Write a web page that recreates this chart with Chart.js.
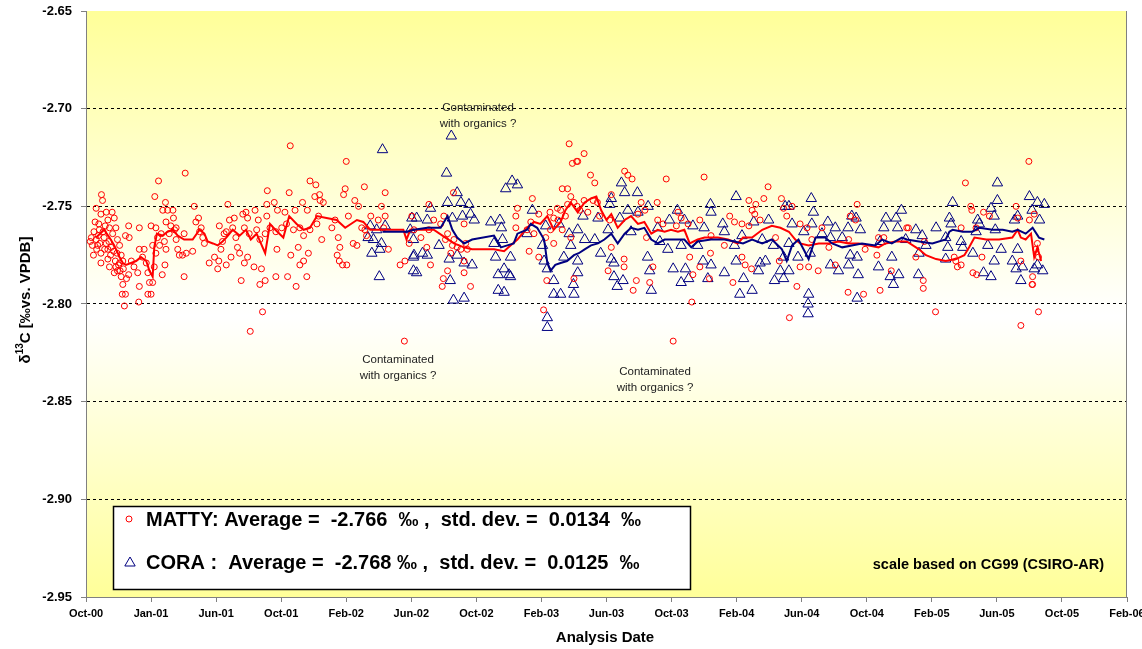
<!DOCTYPE html>
<html>
<head>
<meta charset="utf-8">
<title>d13C MATTY / CORA</title>
<script src="https://cdn.jsdelivr.net/npm/chart.js@4.4.0/dist/chart.umd.min.js"></script>
<style>
  html, body { margin: 0; padding: 0; background: #fff; }
  #wrap { width: 1142px; height: 649px; }
</style>
</head>
<body>
<div id="wrap"><canvas id="chart" width="1142" height="649"></canvas></div>
<script>
// x values are days after 1 Oct 2000, y values are d13C in permil vs. VPDB

const xTickLabels = ['Oct-00', 'Jan-01', 'Jun-01', 'Oct-01', 'Feb-02', 'Jun-02', 'Oct-02', 'Feb-03',
    'Jun-03', 'Oct-03', 'Feb-04', 'Jun-04', 'Oct-04', 'Feb-05', 'Jun-05', 'Oct-05', 'Feb-06'];
const xTickStepDays = 122;
const yMin = -2.95;
const yMax = -2.65;
const yStep = 0.05;

const seriesLabels = [
    'MATTY: Average =  -2.766  \u2030 ,  std. dev. =  0.0134  \u2030',
    'CORA :  Average =  -2.768 \u2030 ,  std. dev. =  0.0125  \u2030'
];

const annotations = ['Contaminated', 'with organics ?'];
const scaleNote = 'scale based on CG99 (CSIRO-AR)';

// MATTY flask results (red circles)
const mattyPoints = [
    [8,-2.768],[10,-2.766],[12,-2.770],[14,-2.775],[15,-2.763],[17,-2.758],[19,-2.751],[19,-2.767],[20,-2.772],
    [22,-2.770],[23,-2.765],[24,-2.759],[25,-2.762],[26,-2.769],[28,-2.754],[28,-2.774],[28,-2.779],[29,-2.744],
    [31,-2.747],[32,-2.763],[34,-2.766],[35,-2.772],[36,-2.760],[38,-2.753],[38,-2.769],[41,-2.757],[41,-2.772],
    [41,-2.777],[43,-2.768],[44,-2.761],[44,-2.781],[46,-2.775],[47,-2.771],[49,-2.753],[50,-2.764],[52,-2.773],
    [53,-2.756],[53,-2.784],[55,-2.778],[56,-2.761],[56,-2.781],[58,-2.774],[59,-2.767],[59,-2.783],[61,-2.780],
    [63,-2.770],[63,-2.779],[64,-2.783],[66,-2.775],[66,-2.786],[68,-2.795],[69,-2.778],[69,-2.790],[70,-2.782],
    [72,-2.801],[74,-2.765],[74,-2.795],[76,-2.787],[80,-2.760],[80,-2.785],[81,-2.766],[85,-2.778],[90,-2.781],
    [97,-2.784],[99,-2.799],[100,-2.761],[100,-2.772],[100,-2.791],[106,-2.776],[109,-2.772],[113,-2.779],
    [116,-2.784],[116,-2.795],[119,-2.789],[122,-2.760],[122,-2.795],[125,-2.770],[125,-2.789],[128,-2.781],
    [129,-2.745],[131,-2.761],[131,-2.774],[134,-2.766],[136,-2.737],[138,-2.770],[141,-2.764],[143,-2.785],
    [144,-2.752],[147,-2.768],[148,-2.780],[149,-2.748],[150,-2.758],[150,-2.772],[153,-2.752],[156,-2.764],
    [159,-2.760],[163,-2.752],[164,-2.756],[166,-2.762],[169,-2.761],[169,-2.767],[172,-2.772],[175,-2.775],
    [181,-2.775],[184,-2.764],[184,-2.786],[186,-2.733],[188,-2.774],[200,-2.773],[203,-2.750],[206,-2.758],
    [211,-2.756],[213,-2.763],[216,-2.761],[219,-2.766],[222,-2.769],[231,-2.779],[241,-2.776],[247,-2.782],
    [249,-2.778],[250,-2.760],[253,-2.772],[256,-2.768],[259,-2.764],[263,-2.763],[263,-2.780],[266,-2.749],
    [269,-2.757],[272,-2.776],[275,-2.761],[278,-2.756],[281,-2.766],[284,-2.771],[288,-2.774],[291,-2.788],
    [294,-2.754],[297,-2.761],[297,-2.779],[300,-2.753],[303,-2.756],[303,-2.776],[306,-2.764],[308,-2.814],
    [315,-2.781],[317,-2.752],[320,-2.762],[323,-2.757],[326,-2.767],[326,-2.790],[329,-2.782],[331,-2.804],
    [336,-2.764],[336,-2.788],[339,-2.749],[339,-2.755],[340,-2.742],[345,-2.761],[353,-2.748],[356,-2.763],
    [356,-2.786],[358,-2.772],[359,-2.752],[367,-2.761],[373,-2.753],[376,-2.759],[378,-2.786],[381,-2.743],
    [383,-2.719],[384,-2.775],[389,-2.762],[392,-2.752],[394,-2.791],[398,-2.771],[401,-2.761],[401,-2.780],
    [406,-2.748],[408,-2.765],[408,-2.778],[414,-2.786],[415,-2.752],[417,-2.774],[420,-2.737],[420,-2.762],
    [429,-2.745],[431,-2.739],[433,-2.759],[436,-2.755],[438,-2.744],[439,-2.747],[442,-2.767],[445,-2.748],
    [461,-2.761],[467,-2.757],[471,-2.775],[473,-2.766],[475,-2.778],[476,-2.771],[481,-2.780],[483,-2.744],
    [486,-2.741],[488,-2.727],[489,-2.780],[492,-2.755],[501,-2.769],[504,-2.747],[508,-2.770],[511,-2.750],
    [517,-2.761],[522,-2.740],[523,-2.762],[526,-2.765],[534,-2.755],[548,-2.757],[554,-2.750],[558,-2.761],
    [561,-2.743],[561,-2.755],[567,-2.772],[589,-2.780],[597,-2.819],[598,-2.778],[606,-2.769],[611,-2.755],
    [615,-2.762],[628,-2.766],[639,-2.771],[643,-2.749],[643,-2.762],[646,-2.780],[652,-2.757],[665,-2.759],
    [668,-2.791],[670,-2.787],[671,-2.755],[674,-2.767],[678,-2.764],[678,-2.783],[684,-2.774],[687,-2.770],
    [689,-2.743],[690,-2.767],[696,-2.771],[703,-2.772],[709,-2.759],[709,-2.778],[709,-2.784],[712,-2.769],
    [715,-2.772],[721,-2.791],[806,-2.755],[806,-2.761],[809,-2.751],[827,-2.762],[831,-2.773],[834,-2.758],
    [837,-2.746],[840,-2.764],[849,-2.754],[849,-2.776],[858,-2.803],[862,-2.766],[864,-2.788],[870,-2.753],
    [871,-2.762],[877,-2.756],[877,-2.769],[884,-2.751],[885,-2.757],[890,-2.752],[893,-2.741],[893,-2.762],
    [899,-2.755],[903,-2.741],[903,-2.749],[906,-2.718],[909,-2.745],[909,-2.766],[912,-2.728],[915,-2.748],
    [915,-2.787],[920,-2.727],[921,-2.750],[922,-2.727],[926,-2.752],[934,-2.723],[934,-2.747],[941,-2.753],
    [946,-2.734],[951,-2.747],[954,-2.738],[959,-2.748],[963,-2.755],[979,-2.783],[982,-2.757],[985,-2.744],
    [985,-2.771],[1009,-2.777],[1009,-2.781],[1010,-2.732],[1016,-2.734],[1024,-2.736],[1026,-2.793],
    [1032,-2.788],[1035,-2.754],[1041,-2.748],[1048,-2.752],[1051,-2.766],[1057,-2.789],[1063,-2.781],
    [1071,-2.748],[1072,-2.757],[1082,-2.759],[1088,-2.736],[1101,-2.819],[1107,-2.760],[1110,-2.753],
    [1116,-2.756],[1129,-2.759],[1132,-2.776],[1136,-2.799],[1138,-2.785],[1151,-2.757],[1151,-2.781],
    [1159,-2.735],[1169,-2.787],[1171,-2.774],[1172,-2.765],[1197,-2.770],[1207,-2.755],[1213,-2.789],
    [1216,-2.758],[1230,-2.759],[1230,-2.776],[1236,-2.780],[1243,-2.747],[1243,-2.760],[1248,-2.782],
    [1249,-2.752],[1254,-2.754],[1256,-2.749],[1264,-2.757],[1271,-2.746],[1279,-2.740],[1293,-2.766],
    [1300,-2.778],[1304,-2.746],[1308,-2.751],[1314,-2.755],[1319,-2.807],[1324,-2.750],[1333,-2.791],
    [1339,-2.759],[1339,-2.781],[1352,-2.761],[1355,-2.781],[1361,-2.767],[1373,-2.783],[1380,-2.761],
    [1393,-2.771],[1405,-2.780],[1429,-2.794],[1430,-2.767],[1433,-2.755],[1443,-2.757],[1446,-2.749],
    [1458,-2.795],[1461,-2.772],[1483,-2.775],[1486,-2.766],[1489,-2.793],[1496,-2.766],[1510,-2.783],
    [1539,-2.761],[1542,-2.761],[1556,-2.776],[1570,-2.788],[1570,-2.792],[1572,-2.768],[1593,-2.804],
    [1628,-2.776],[1631,-2.778],[1634,-2.781],[1641,-2.761],[1641,-2.780],[1649,-2.738],[1659,-2.750],
    [1661,-2.752],[1663,-2.784],[1669,-2.761],[1670,-2.785],[1680,-2.776],[1683,-2.753],[1694,-2.755],
    [1744,-2.750],[1747,-2.756],[1753,-2.778],[1753,-2.811],[1768,-2.727],[1769,-2.757],[1774,-2.790],
    [1775,-2.786],[1775,-2.790],[1778,-2.754],[1781,-2.772],[1784,-2.769],[1786,-2.776],[1786,-2.804]
];

// CORA flask results (blue triangles)
const coraPoints = [
    [529,-2.766],[533,-2.760],[536,-2.774],[539,-2.767],[545,-2.762],[550,-2.786],[551,-2.772],[554,-2.769],
    [556,-2.721],[561,-2.760],[608,-2.762],[611,-2.756],[614,-2.767],[614,-2.776],[614,-2.783],[615,-2.775],
    [620,-2.756],[620,-2.784],[631,-2.774],[640,-2.757],[640,-2.775],[646,-2.751],[662,-2.770],[676,-2.733],
    [678,-2.748],[681,-2.777],[683,-2.788],[685,-2.714],[687,-2.756],[689,-2.798],[696,-2.743],[696,-2.775],
    [703,-2.748],[706,-2.755],[709,-2.779],[709,-2.797],[718,-2.749],[721,-2.754],[724,-2.780],[728,-2.757],
    [759,-2.758],[765,-2.769],[768,-2.776],[773,-2.785],[773,-2.793],[776,-2.757],[779,-2.761],[781,-2.767],
    [784,-2.782],[784,-2.794],[787,-2.741],[793,-2.785],[796,-2.776],[796,-2.786],[799,-2.737],[809,-2.739],
    [827,-2.764],[837,-2.752],[856,-2.770],[859,-2.778],[862,-2.760],[865,-2.782],[865,-2.807],[865,-2.812],
    [877,-2.788],[877,-2.795],[887,-2.759],[890,-2.795],[896,-2.776],[906,-2.764],[909,-2.770],[914,-2.790],
    [915,-2.795],[922,-2.762],[922,-2.778],[922,-2.784],[932,-2.755],[935,-2.767],[954,-2.767],[960,-2.756],
    [965,-2.774],[979,-2.762],[982,-2.749],[985,-2.746],[985,-2.777],[990,-2.779],[990,-2.786],[996,-2.791],
    [1001,-2.756],[1004,-2.738],[1007,-2.788],[1010,-2.743],[1016,-2.752],[1022,-2.763],[1034,-2.743],
    [1035,-2.753],[1053,-2.776],[1054,-2.750],[1057,-2.783],[1060,-2.793],[1072,-2.761],[1076,-2.768],
    [1091,-2.772],[1094,-2.757],[1101,-2.782],[1109,-2.752],[1116,-2.770],[1116,-2.789],[1122,-2.757],
    [1124,-2.782],[1130,-2.787],[1138,-2.760],[1147,-2.770],[1157,-2.778],[1159,-2.761],[1166,-2.787],
    [1171,-2.749],[1172,-2.753],[1172,-2.780],[1194,-2.759],[1197,-2.763],[1197,-2.784],[1216,-2.770],
    [1219,-2.745],[1219,-2.778],[1226,-2.795],[1230,-2.765],[1233,-2.787],[1249,-2.793],[1252,-2.758],
    [1261,-2.783],[1264,-2.779],[1268,-2.767],[1274,-2.778],[1280,-2.757],[1289,-2.770],[1291,-2.788],
    [1302,-2.783],[1308,-2.776],[1308,-2.787],[1311,-2.750],[1318,-2.750],[1318,-2.769],[1318,-2.783],
    [1324,-2.759],[1335,-2.776],[1346,-2.763],[1354,-2.800],[1354,-2.805],[1355,-2.795],[1358,-2.774],
    [1360,-2.746],[1361,-2.759],[1364,-2.753],[1380,-2.764],[1391,-2.758],[1396,-2.766],[1396,-2.780],
    [1405,-2.761],[1411,-2.783],[1418,-2.766],[1429,-2.761],[1430,-2.780],[1433,-2.775],[1436,-2.755],
    [1444,-2.756],[1446,-2.776],[1446,-2.797],[1448,-2.785],[1452,-2.762],[1486,-2.781],[1489,-2.768],
    [1496,-2.761],[1500,-2.756],[1508,-2.786],[1511,-2.776],[1514,-2.790],[1519,-2.756],[1522,-2.761],
    [1524,-2.785],[1529,-2.752],[1537,-2.767],[1556,-2.762],[1561,-2.785],[1562,-2.774],[1568,-2.765],
    [1575,-2.770],[1594,-2.761],[1612,-2.766],[1612,-2.777],[1616,-2.771],[1619,-2.756],[1622,-2.759],
    [1625,-2.748],[1641,-2.768],[1644,-2.771],[1663,-2.774],[1669,-2.763],[1672,-2.757],[1675,-2.759],
    [1683,-2.784],[1691,-2.770],[1697,-2.751],[1697,-2.786],[1703,-2.755],[1703,-2.778],[1705,-2.762],
    [1709,-2.738],[1709,-2.747],[1716,-2.772],[1737,-2.778],[1741,-2.757],[1744,-2.782],[1747,-2.755],
    [1747,-2.772],[1753,-2.788],[1756,-2.781],[1769,-2.745],[1774,-2.752],[1778,-2.782],[1784,-2.748],
    [1784,-2.780],[1788,-2.757],[1794,-2.783],[1797,-2.749]
];

// running averages
const mattyAverage = [
    [19,-2.766],[34,-2.762],[44,-2.766],[53,-2.770],[63,-2.776],[69,-2.779],[75,-2.780],[94,-2.778],
    [103,-2.776],[113,-2.778],[119,-2.783],[125,-2.786],[128,-2.771],[133,-2.764],[144,-2.765],[153,-2.763],
    [163,-2.762],[172,-2.765],[184,-2.767],[200,-2.767],[213,-2.762],[222,-2.764],[228,-2.768],[238,-2.769],
    [247,-2.770],[256,-2.768],[263,-2.766],[275,-2.762],[288,-2.765],[300,-2.762],[309,-2.767],[320,-2.764],
    [336,-2.774],[345,-2.759],[355,-2.762],[370,-2.766],[381,-2.755],[395,-2.759],[408,-2.762],[420,-2.761],
    [433,-2.755],[451,-2.756],[470,-2.757],[486,-2.761],[508,-2.757],[520,-2.758],[533,-2.762],[545,-2.762],
    [570,-2.762],[595,-2.762],[601,-2.767],[608,-2.762],[615,-2.762],[652,-2.762],[674,-2.766],[690,-2.769],
    [709,-2.771],[724,-2.772],[765,-2.772],[784,-2.773],[796,-2.770],[809,-2.767],[827,-2.761],[840,-2.758],
    [852,-2.759],[865,-2.755],[877,-2.762],[890,-2.758],[899,-2.752],[909,-2.748],[922,-2.753],[935,-2.748],
    [947,-2.746],[957,-2.745],[966,-2.752],[976,-2.757],[985,-2.754],[997,-2.761],[1010,-2.757],[1022,-2.755],
    [1035,-2.759],[1047,-2.758],[1060,-2.764],[1072,-2.762],[1085,-2.763],[1097,-2.762],[1110,-2.763],
    [1122,-2.762],[1132,-2.769],[1147,-2.767],[1160,-2.766],[1185,-2.766],[1204,-2.767],[1222,-2.769],
    [1232,-2.766],[1249,-2.766],[1268,-2.762],[1286,-2.760],[1302,-2.761],[1318,-2.763],[1330,-2.767],
    [1339,-2.769],[1355,-2.770],[1374,-2.769],[1393,-2.769],[1411,-2.768],[1430,-2.769],[1449,-2.769],
    [1468,-2.770],[1486,-2.771],[1499,-2.769],[1518,-2.768],[1539,-2.768],[1562,-2.772],[1575,-2.775],
    [1594,-2.777],[1612,-2.778],[1631,-2.777],[1647,-2.775],[1656,-2.771],[1666,-2.766],[1688,-2.767],
    [1712,-2.767],[1737,-2.766],[1747,-2.762],[1753,-2.766],[1762,-2.767],[1772,-2.764],[1778,-2.776],
    [1784,-2.771],[1791,-2.778]
];

const coraAverage = [
    [556,-2.763],[583,-2.763],[601,-2.763],[615,-2.762],[640,-2.761],[665,-2.761],[678,-2.755],[687,-2.762],
    [696,-2.766],[709,-2.769],[724,-2.767],[765,-2.765],[778,-2.771],[790,-2.770],[802,-2.769],[809,-2.764],
    [827,-2.762],[834,-2.759],[846,-2.761],[859,-2.767],[865,-2.779],[871,-2.783],[880,-2.780],[890,-2.779],
    [902,-2.778],[915,-2.775],[924,-2.774],[935,-2.772],[947,-2.770],[960,-2.769],[972,-2.767],[985,-2.764],
    [997,-2.769],[1010,-2.764],[1022,-2.761],[1035,-2.762],[1047,-2.761],[1060,-2.767],[1072,-2.769],
    [1085,-2.767],[1104,-2.767],[1122,-2.767],[1135,-2.771],[1147,-2.768],[1172,-2.767],[1197,-2.767],
    [1216,-2.768],[1232,-2.769],[1249,-2.767],[1268,-2.769],[1286,-2.767],[1305,-2.772],[1314,-2.778],
    [1324,-2.770],[1336,-2.767],[1355,-2.777],[1368,-2.766],[1386,-2.766],[1399,-2.769],[1418,-2.771],
    [1436,-2.770],[1455,-2.769],[1480,-2.770],[1493,-2.767],[1511,-2.769],[1530,-2.766],[1539,-2.767],
    [1562,-2.768],[1587,-2.769],[1612,-2.767],[1619,-2.763],[1625,-2.762],[1644,-2.763],[1662,-2.763],
    [1675,-2.761],[1700,-2.762],[1719,-2.762],[1737,-2.763],[1747,-2.762],[1762,-2.764],[1775,-2.761],
    [1787,-2.766],[1797,-2.767]
];

const FONT = '"Liberation Sans", Arial, sans-serif';
const RED = '#ff0000';
const NAVY = '#000080';

function toXY(pairs) {
    return pairs.map(p => ({ x: p[0], y: p[1] }));
}

// yellow-white-yellow fill of the plot area
const plotBackground = {
    id: 'plotBackground',
    beforeDraw(chart) {
        const { ctx, chartArea: a } = chart;
        const g = ctx.createLinearGradient(0, a.top, 0, a.bottom);
        g.addColorStop(0, '#ffff99');
        g.addColorStop(0.52, '#ffffff');
        g.addColorStop(1, '#ffff99');
        ctx.save();
        ctx.fillStyle = g;
        ctx.fillRect(a.left, a.top, a.right - a.left, a.bottom - a.top);
        ctx.restore();
    }
};

function drawCircle(ctx, x, y) {
    ctx.beginPath();
    ctx.arc(x, y, 3, 0, Math.PI * 2);
    ctx.strokeStyle = RED;
    ctx.lineWidth = 1;
    ctx.stroke();
}

function drawTriangle(ctx, x, y) {
    ctx.beginPath();
    ctx.moveTo(x, y - 6);
    ctx.lineTo(x + 5.2, y + 3);
    ctx.lineTo(x - 5.2, y + 3);
    ctx.closePath();
    ctx.strokeStyle = NAVY;
    ctx.lineWidth = 1;
    ctx.stroke();
}

// texts, legend box, axis titles, right frame line
const overlay = {
    id: 'overlay',
    afterDraw(chart) {
        const { ctx, chartArea: a } = chart;
        ctx.save();

        // right frame
        ctx.strokeStyle = '#808080';
        ctx.lineWidth = 1;
        ctx.beginPath();
        ctx.moveTo(a.right - 0.5, a.top);
        ctx.lineTo(a.right - 0.5, a.bottom);
        ctx.stroke();

        // notes on the plot
        ctx.fillStyle = '#222';
        ctx.font = '11.5px ' + FONT;
        ctx.textAlign = 'center';
        ctx.textBaseline = 'middle';
        [[478, 108], [398, 360], [655, 372]].forEach(([x, y]) => {
            ctx.fillText(annotations[0], x, y);
            ctx.fillText(annotations[1], x, y + 16);
        });

        ctx.fillStyle = '#000';
        ctx.font = 'bold 14.5px ' + FONT;
        ctx.textAlign = 'right';
        ctx.fillText(scaleNote, 1104, 565);

        // legend box
        ctx.fillStyle = '#fff';
        ctx.fillRect(113, 506, 577, 83);
        ctx.strokeStyle = '#000';
        ctx.lineWidth = 1.5;
        ctx.strokeRect(113.5, 506.5, 577, 83);
        drawCircle(ctx, 129, 519);
        drawTriangle(ctx, 130, 563);
        ctx.fillStyle = '#000';
        ctx.font = 'bold 20px ' + FONT;
        ctx.textAlign = 'left';
        ctx.fillText(seriesLabels[0], 146, 520);
        ctx.fillText(seriesLabels[1], 146, 563);

        // x title
        ctx.font = 'bold 15px ' + FONT;
        ctx.textAlign = 'center';
        ctx.fillText('Analysis Date', 605, 638);

        // y title with superscript
        ctx.translate(26, 300);
        ctx.rotate(-Math.PI / 2);
        const big = 'bold 15px ' + FONT;
        const small = 'bold 10px ' + FONT;
        const parts = [['\u03b4', big, 0], ['13', small, -6], ['C [\u2030vs. VPDB]', big, 0]];
        let total = 0;
        parts.forEach(p => { ctx.font = p[1]; total += ctx.measureText(p[0]).width; });
        let cx = -total / 2;
        ctx.textAlign = 'left';
        parts.forEach(p => {
            ctx.font = p[1];
            ctx.fillText(p[0], cx, p[2]);
            cx += ctx.measureText(p[0]).width;
        });
        ctx.restore();
    }
};

const ctx = document.getElementById('chart');
new Chart(ctx, {
    type: 'scatter',
    data: {
        datasets: [
            {
                type: 'line',
                label: 'CORA running mean',
                data: toXY(coraAverage),
                borderColor: NAVY,
                borderWidth: 2,
                pointRadius: 0,
                tension: 0,
                fill: false,
                order: 0
            },
            {
                type: 'line',
                label: 'MATTY running mean',
                data: toXY(mattyAverage),
                borderColor: RED,
                borderWidth: 2,
                pointRadius: 0,
                tension: 0,
                fill: false,
                order: 1
            },
            {
                label: seriesLabels[0],
                data: toXY(mattyPoints),
                pointStyle: 'circle',
                pointRadius: 3,
                borderColor: RED,
                backgroundColor: 'rgba(0,0,0,0)',
                borderWidth: 1,
                order: 2
            },
            {
                label: seriesLabels[1],
                data: toXY(coraPoints),
                pointStyle: 'triangle',
                pointRadius: 6,
                borderColor: NAVY,
                backgroundColor: 'rgba(0,0,0,0)',
                borderWidth: 1,
                order: 3
            }
        ]
    },
    options: {
        responsive: false,
        animation: false,
        devicePixelRatio: 1,
        layout: { padding: { top: 11, right: 15, bottom: 0, left: 0 } },
        plugins: {
            legend: { display: false },
            tooltip: { enabled: false }
        },
        scales: {
            x: {
                type: 'linear',
                min: 0,
                max: xTickStepDays * (xTickLabels.length - 1),
                afterBuildTicks: (scale) => {
                    scale.ticks = xTickLabels.map((l, i) => ({ value: i * xTickStepDays }));
                },
                afterFit: (scale) => {
                    scale.height = 52;
                    scale.paddingLeft = 0;
                    scale.paddingRight = 0;
                },
                ticks: {
                    autoSkip: false,
                    maxRotation: 0,
                    padding: 5,
                    color: '#000',
                    font: { family: FONT, size: 11, weight: 'bold' },
                    callback: (value, index) => xTickLabels[index]
                },
                grid: {
                    drawOnChartArea: false,
                    drawTicks: true,
                    tickLength: 5,
                    tickColor: '#808080'
                },
                border: { display: true, color: '#808080', width: 1 }
            },
            y: {
                min: yMin,
                max: yMax,
                afterFit: (scale) => {
                    scale.width = 86;
                    scale.paddingTop = 0;
                    scale.paddingBottom = 0;
                },
                ticks: {
                    stepSize: yStep,
                    padding: 9,
                    color: '#000',
                    font: { family: FONT, size: 13, weight: 'bold' },
                    callback: (value) => value.toFixed(2)
                },
                grid: {
                    color: (c) => {
                        const v = c.tick ? c.tick.value : 0;
                        return (Math.abs(v - yMin) < 1e-6 || Math.abs(v - yMax) < 1e-6) ? 'rgba(0,0,0,0)' : '#000';
                    },
                    lineWidth: 1,
                    drawTicks: true,
                    tickLength: 5,
                    tickColor: '#808080',
                    tickBorderDash: []
                },
                border: { display: true, color: '#808080', width: 1, dash: [3, 3] }
            }
        }
    },
    plugins: [plotBackground, overlay]
});
</script>
</body>
</html>
